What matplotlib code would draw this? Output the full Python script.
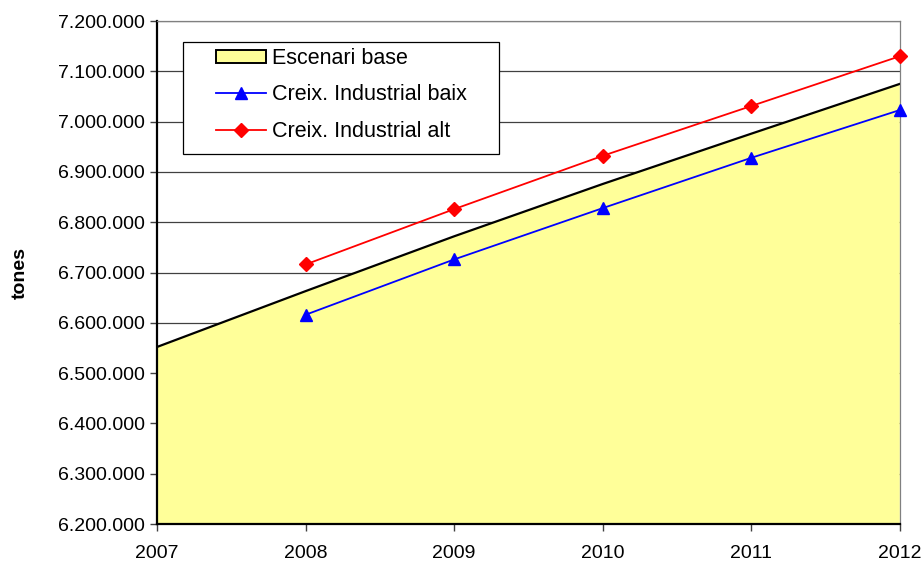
import matplotlib
matplotlib.use("Agg")
import matplotlib.pyplot as plt
from matplotlib.ticker import FuncFormatter
from matplotlib.patches import Patch, Rectangle
from matplotlib.lines import Line2D

plt.rcParams['font.family'] = ['Liberation Sans', 'DejaVu Sans']

years = [2007, 2008, 2009, 2010, 2011, 2012]
base = [6552000, 6663000, 6772000, 6876000, 6976000, 7075000]
years_s = [2008, 2009, 2010, 2011, 2012]
low = [6616000, 6726000, 6828000, 6928000, 7023000]
high = [6716000, 6826000, 6932000, 7031000, 7130000]

fig = plt.figure(figsize=(9.21, 5.62), dpi=100)
ax = fig.add_axes([0.1705, 0.0676, 0.8065, 0.895])

ax.set_axisbelow(True)
ax.yaxis.grid(True, color='#404040', linewidth=0.9, zorder=0)
ax.fill_between(years, base, 6200000, facecolor='#FFFF99', edgecolor='none', zorder=1)
ax.plot(years, base, color='black', linewidth=1.6, zorder=2)
ax.plot(years_s, low, color='#0000FF', linewidth=1.3, marker='^', markersize=9,
        zorder=3, clip_on=False)
ax.plot(years_s, high, color='#FF0000', linewidth=1.3, marker='D', markersize=7,
        zorder=3, clip_on=False)

ax.set_xlim(2007, 2012)
ax.set_ylim(6200000, 7200000)
ax.set_xticks(years)
ax.set_yticks(range(6200000, 7200001, 100000))
ax.yaxis.set_major_formatter(FuncFormatter(lambda v, p: f"{int(v):,}".replace(',', '.')))
ax.tick_params(axis='both', labelsize=14, direction='out', length=5, width=1, color='#404040')
ax.tick_params(axis='x', pad=10)
ax.tick_params(axis='y', pad=4)

for s in ['left', 'bottom']:
    ax.spines[s].set_color('black')
    ax.spines[s].set_linewidth(1.6)
for s in ['top', 'right']:
    ax.spines[s].set_color('#808080')
    ax.spines[s].set_linewidth(0.9)

ax.set_ylabel('tones', fontsize=14, fontweight='bold', labelpad=21)

# legend frame
frame = Rectangle((0.035, 0.7356), 0.425, 0.2224, transform=ax.transAxes,
                  facecolor='white', edgecolor='black', linewidth=0.9, zorder=4)
ax.add_patch(frame)

handles = [Patch(facecolor='#FFFF99', edgecolor='black', linewidth=1.4),
           Line2D([], [], color='#0000FF', linewidth=1.3, marker='^', markersize=9),
           Line2D([], [], color='#FF0000', linewidth=1.3, marker='D', markersize=7)]
labels = ['Escenari base', 'Creix. Industrial baix', 'Creix. Industrial alt']
leg = ax.legend(handles, labels, loc='upper left', bbox_to_anchor=(0.0794, 0.946),
                fontsize=15.5, frameon=False, handlelength=2.3, handleheight=0.6,
                borderpad=0, labelspacing=0.71, handletextpad=0.3, borderaxespad=0)
leg.set_zorder(5)

fig.savefig('out.png', dpi=100)
